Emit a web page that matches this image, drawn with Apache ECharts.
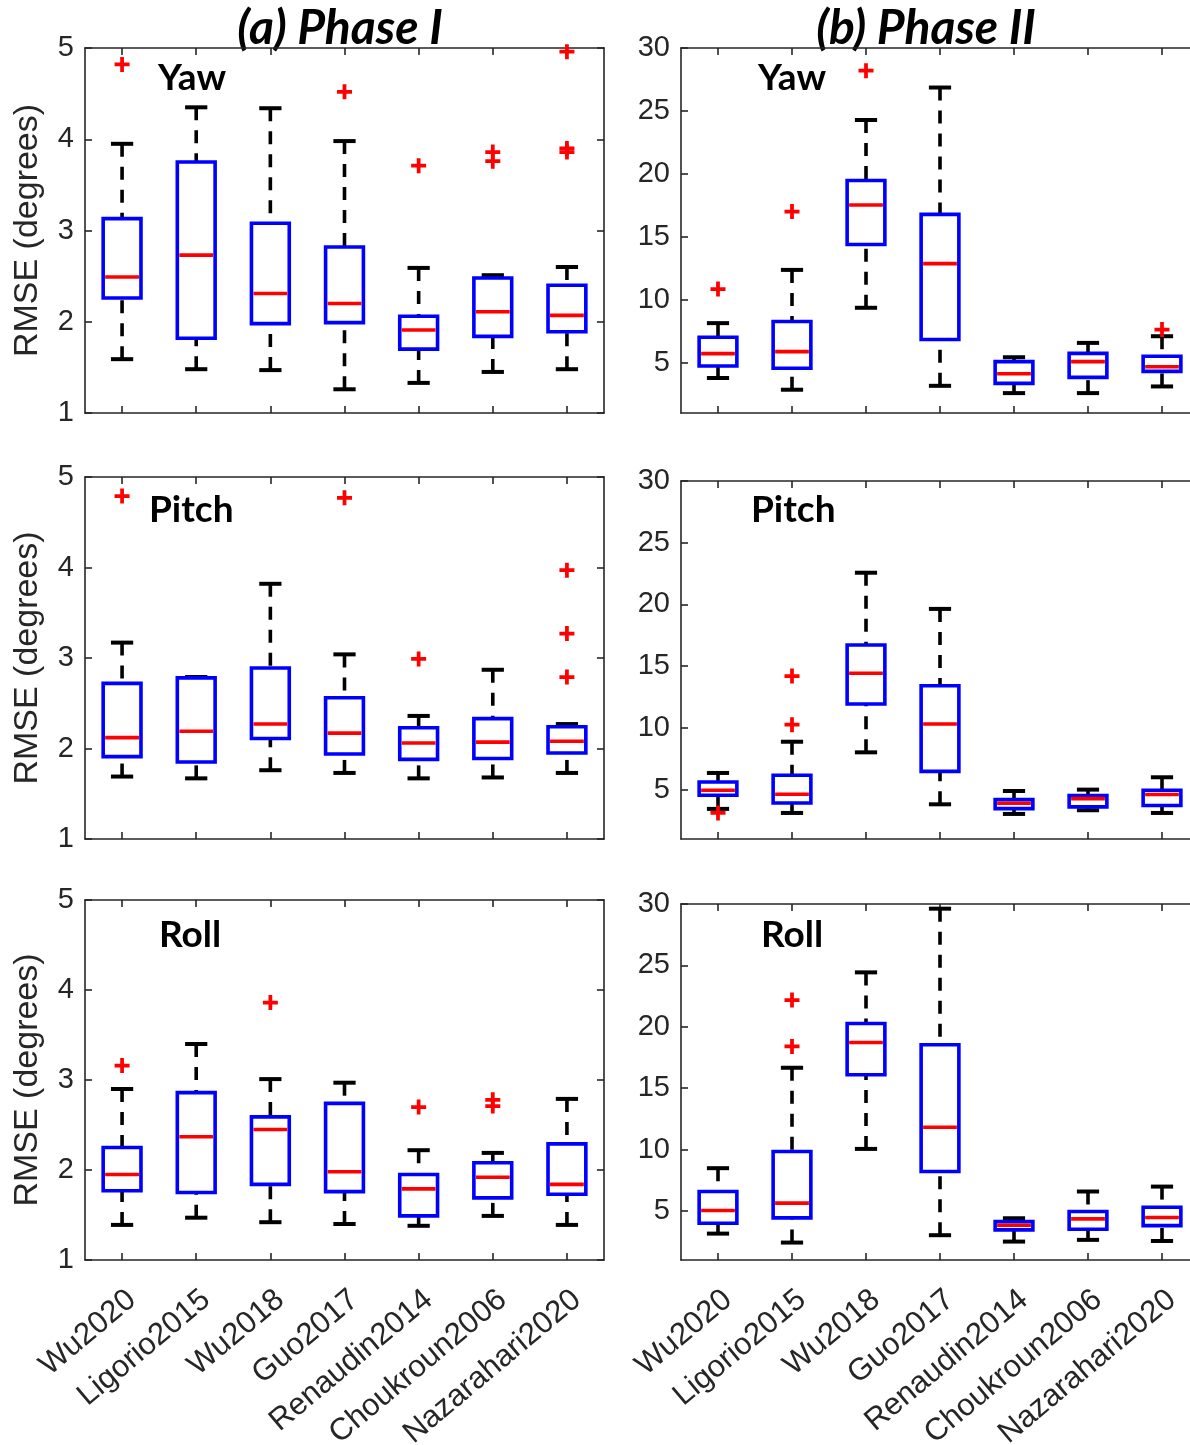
<!DOCTYPE html>
<html>
<head>
<meta charset="utf-8">
<script src="https://cdn.jsdelivr.net/npm/echarts@6/dist/echarts.min.js"></script>
<style>
  html, body { margin: 0; padding: 0; background: #fff; }
  #chart { width: 1190px; height: 1445px; }
</style>
</head>
<body>
<div id="chart"></div>
<script>
// Methods compared in every panel
const categories = ['Wu2020', 'Ligorio2015', 'Wu2018', 'Guo2017', 'Renaudin2014', 'Choukroun2006', 'Nazarahari2020'];

// Box statistics per method: [lower whisker, Q1, median, Q3, upper whisker]
const yawPhaseI = [
  [1.59, 2.26, 2.49, 3.13, 3.95],
  [1.48, 1.82, 2.73, 3.75, 4.35],
  [1.47, 1.98, 2.31, 3.08, 4.34],
  [1.26, 1.99, 2.20, 2.82, 3.98],
  [1.33, 1.70, 1.91, 2.06, 2.59],
  [1.45, 1.84, 2.11, 2.48, 2.51],
  [1.48, 1.89, 2.07, 2.40, 2.60]
];
const pitchPhaseI = [
  [1.69, 1.91, 2.12, 2.72, 3.17],
  [1.67, 1.85, 2.19, 2.78, 2.79],
  [1.76, 2.11, 2.27, 2.89, 3.82],
  [1.73, 1.94, 2.17, 2.56, 3.04],
  [1.67, 1.88, 2.06, 2.23, 2.36],
  [1.68, 1.89, 2.07, 2.33, 2.87],
  [1.73, 1.95, 2.08, 2.24, 2.27]
];
const rollPhaseI = [
  [1.39, 1.77, 1.95, 2.25, 2.90],
  [1.47, 1.75, 2.37, 2.86, 3.40],
  [1.42, 1.84, 2.45, 2.59, 3.01],
  [1.40, 1.76, 1.98, 2.74, 2.97],
  [1.38, 1.49, 1.79, 1.95, 2.22],
  [1.49, 1.69, 1.92, 2.08, 2.19],
  [1.39, 1.73, 1.84, 2.29, 2.79]
];
const yawPhaseII = [
  [3.78, 4.73, 5.72, 7.02, 8.14],
  [2.85, 4.55, 5.88, 8.27, 12.37],
  [9.36, 14.39, 17.53, 19.47, 24.28],
  [3.16, 6.84, 12.87, 16.78, 26.86],
  [2.58, 3.35, 4.12, 5.08, 5.43],
  [2.58, 3.83, 5.08, 5.74, 6.57],
  [3.11, 4.31, 4.68, 5.51, 7.10]
];
const pitchPhaseII = [
  [3.44, 4.54, 4.95, 5.62, 6.35],
  [3.11, 3.92, 4.62, 6.16, 8.88],
  [8.02, 11.93, 14.43, 16.72, 22.57],
  [3.81, 6.48, 10.31, 13.41, 19.64],
  [3.03, 3.46, 3.89, 4.19, 4.89],
  [3.33, 3.60, 4.27, 4.51, 5.00],
  [3.11, 3.71, 4.60, 4.95, 6.00]
];
const rollPhaseII = [
  [3.15, 3.99, 5.03, 6.58, 8.48],
  [2.42, 4.43, 5.63, 9.84, 16.66],
  [10.05, 16.09, 18.72, 20.27, 24.43],
  [3.02, 8.21, 11.82, 18.53, 29.62],
  [2.50, 3.45, 3.83, 4.13, 4.40],
  [2.64, 3.51, 4.35, 4.95, 6.58],
  [2.55, 3.80, 4.46, 5.30, 6.98]
];

// Outliers: [method index, value]
const yawPhaseIOutliers = [[0, 4.82], [3, 4.52], [4, 3.71], [5, 3.86], [5, 3.76], [6, 4.96], [6, 3.90], [6, 3.86]];
const pitchPhaseIOutliers = [[0, 4.79], [3, 4.77], [4, 2.99], [6, 3.97], [6, 3.27], [6, 2.79]];
const rollPhaseIOutliers = [[0, 3.16], [2, 3.86], [4, 2.70], [5, 2.78], [5, 2.71]];
const yawPhaseIIOutliers = [[0, 10.85], [1, 17.0], [2, 28.2], [6, 7.63]];
const pitchPhaseIIOutliers = [[0, 3.11], [1, 14.2], [1, 10.26]];
const rollPhaseIIOutliers = [[1, 22.17], [1, 18.4]];

// Axis tick values
const phaseITicks = [1, 2, 3, 4, 5];
const phaseIITicks = [5, 10, 15, 20, 25, 30];

const panelTitles = ['(a) Phase I', '(b) Phase II'];
const angleNames = ['Yaw', 'Pitch', 'Roll'];
const yName = 'RMSE (degrees)';

const chart = echarts.init(document.getElementById('chart'), null, { renderer: 'canvas' });

const AXIS_COLOR = '#262626';
const TICK_FONT = 'Liberation Sans';

// Panel frames: [left, top, width, height]
const panels = [
  { stats: yawPhaseI,    out: yawPhaseIOutliers,    phase: 1, rect: [85, 48, 519, 365] },
  { stats: pitchPhaseI,  out: pitchPhaseIOutliers,  phase: 1, rect: [85, 477, 519, 362] },
  { stats: rollPhaseI,   out: rollPhaseIOutliers,   phase: 1, rect: [85, 900, 519, 360] },
  { stats: yawPhaseII,   out: yawPhaseIIOutliers,   phase: 2, rect: [681, 48, 518, 365] },
  { stats: pitchPhaseII, out: pitchPhaseIIOutliers, phase: 2, rect: [681, 481, 518, 358] },
  { stats: rollPhaseII,  out: rollPhaseIIOutliers,  phase: 2, rect: [681, 904, 518, 356] }
];

// Draws one MATLAB-style box: dashed whiskers, end caps, outlined box, median bar
function renderBox(params, api) {
  const x = api.value(0);
  const pLow = api.coord([x, api.value(1)]);
  const pQ1 = api.coord([x, api.value(2)]);
  const pMed = api.coord([x, api.value(3)]);
  const pQ3 = api.coord([x, api.value(4)]);
  const pUp = api.coord([x, api.value(5)]);
  const band = api.size([1, 0])[0];
  const bw = band * 0.51;
  const cw = band * 0.3;
  const cx = pMed[0];
  const lw = 3.6;
  return {
    type: 'group',
    children: [
      { type: 'line', shape: { x1: cx, y1: pUp[1], x2: cx, y2: pQ3[1] },
        style: { stroke: '#000', lineWidth: lw, lineDash: [13, 10] } },
      { type: 'line', shape: { x1: cx, y1: pLow[1], x2: cx, y2: pQ1[1] },
        style: { stroke: '#000', lineWidth: lw, lineDash: [13, 10] } },
      { type: 'line', shape: { x1: cx - cw / 2, y1: pUp[1], x2: cx + cw / 2, y2: pUp[1] },
        style: { stroke: '#000', lineWidth: 4 } },
      { type: 'line', shape: { x1: cx - cw / 2, y1: pLow[1], x2: cx + cw / 2, y2: pLow[1] },
        style: { stroke: '#000', lineWidth: 4 } },
      { type: 'rect', shape: { x: cx - bw / 2, y: pQ3[1], width: bw, height: pQ1[1] - pQ3[1] },
        style: { stroke: '#0000ff', lineWidth: lw, fill: 'none' } },
      { type: 'line', shape: { x1: cx - bw / 2 + 2, y1: pMed[1], x2: cx + bw / 2 - 2, y2: pMed[1] },
        style: { stroke: '#ff0000', lineWidth: lw } }
    ]
  };
}

const grids = [], xAxes = [], yAxes = [], series = [];

panels.forEach((p, i) => {
  const [left, top, width, height] = p.rect;
  // Frames are placed exactly; the right column runs slightly past the canvas edge
  grids.push({ left, top, width, height, containLabel: false, outerBoundsMode: 'none' });
  const isBottom = (i % 3) === 2;
  const commonX = {
    type: 'category', data: categories, gridIndex: i, boundaryGap: true,
    axisLine: { show: true, lineStyle: { color: AXIS_COLOR, width: 1.6 } },
    axisTick: { show: true, inside: true, length: 7, alignWithLabel: true, interval: 0,
                lineStyle: { color: AXIS_COLOR, width: 1.6 } },
    splitLine: { show: false }
  };
  xAxes.push(Object.assign({}, commonX, {
    position: 'bottom',
    axisLabel: isBottom ? {
      show: true, interval: 0, rotate: 40, margin: 24, verticalAlign: 'top',
      fontFamily: TICK_FONT, fontSize: 31, color: AXIS_COLOR
    } : { show: false }
  }));
  xAxes.push(Object.assign({}, commonX, { position: 'top', axisLabel: { show: false } }));

  const isI = p.phase === 1;
  const commonY = {
    type: 'value', gridIndex: i,
    min: 1, max: isI ? 5 : 30,
    axisLine: { show: true, lineStyle: { color: AXIS_COLOR, width: 1.6 } },
    axisTick: { show: true, inside: true, length: 7, lineStyle: { color: AXIS_COLOR, width: 1.6 },
                customValues: isI ? phaseITicks : phaseIITicks },
    splitLine: { show: false }
  };
  yAxes.push(Object.assign({}, commonY, {
    position: 'left',
    axisLabel: { show: true, margin: 11, fontFamily: TICK_FONT, fontSize: 29, color: AXIS_COLOR,
                 customValues: isI ? phaseITicks : phaseIITicks },
    name: isI ? yName : '',
    nameLocation: 'middle', nameGap: 40,
    nameTextStyle: { fontFamily: TICK_FONT, fontSize: 34, color: AXIS_COLOR }
  }));
  yAxes.push(Object.assign({}, commonY, { position: 'right', axisLabel: { show: false } }));

  series.push({
    type: 'custom', xAxisIndex: 2 * i, yAxisIndex: 2 * i,
    renderItem: renderBox, silent: true,
    encode: { x: 0, y: [1, 2, 3, 4, 5] },
    data: p.stats.map((s, k) => [k].concat(s))
  });
  series.push({
    type: 'scatter', xAxisIndex: 2 * i, yAxisIndex: 2 * i, silent: true,
    symbol: 'path://M6,0H10V16H6Z M0,6H16V10H0Z', symbolSize: 15,
    itemStyle: { color: '#ff0000', opacity: 1 },
    data: p.out
  });
});

// Column titles and per-panel angle names
const graphics = [
  { type: 'text', x: 340, y: 29, style: { text: panelTitles[0], font: 'italic bold 48px Lato', fill: '#000', align: 'center', verticalAlign: 'middle' } },
  { type: 'text', x: 926, y: 29, style: { text: panelTitles[1], font: 'italic bold 48px Lato', fill: '#000', align: 'center', verticalAlign: 'middle' } }
];
const labelPos = [[158, 78], [149, 510], [159, 935], [758, 78], [751, 510], [761, 935]];
labelPos.forEach((pos, i) => {
  graphics.push({ type: 'text', x: pos[0], y: pos[1],
    style: { text: angleNames[i % 3], font: 'bold 37px Lato', fill: '#000', align: 'left', verticalAlign: 'middle' } });
});

chart.setOption({
  animation: false,
  backgroundColor: '#fff',
  grid: grids,
  xAxis: xAxes,
  yAxis: yAxes,
  series: series,
  graphic: graphics
});
</script>
</body>
</html>
